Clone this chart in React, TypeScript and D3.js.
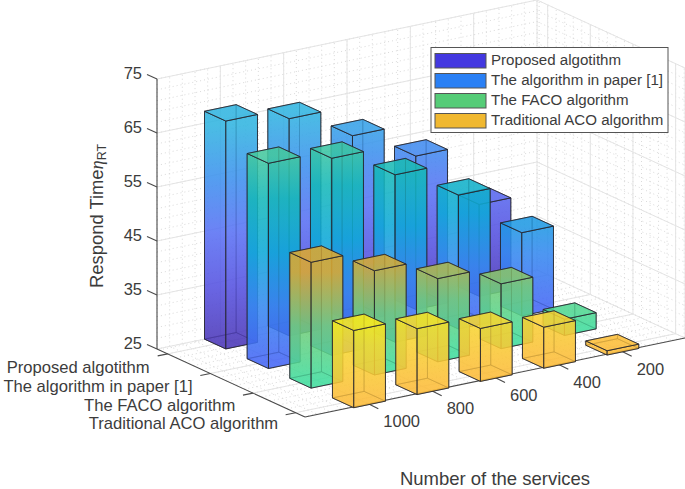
import React from "react";
import * as d3 from "d3";

const services = ["1000", "800", "600", "400", "200"];
const categories = ["Proposed algotithm", "The algorithm in paper [1]", "The FACO algorithm", "Traditional ACO algorithm"];
const zTicks = [25, 35, 45, 55, 65, 75];

const proposed = [67.2, 65.2, 59.6, 53.4, 42];
const paper = [63, 61.5, 56, 49.8, 40.4];
const faco = [48.3, 44.3, 40.4, 37, 28];
const traditional = [39.3, 37.2, 34.8, 32.6, 25.8];
const seriesValues = [proposed, paper, faco, traditional];

const legendColors = ["#4338e0", "#2a80f5", "#55cc77", "#f0b830"];

// colour along the height of the bars, one ramp per row
const rampZ = [25, 35, 45, 55, 65];
const ramps = [
  ["#4a36b8", "#5450e0", "#5870f4", "#3c90ee", "#30b4e0"],
  ["#4466f5", "#3488f0", "#0ca8d8", "#14b8b8", "#50cc98"],
  ["#40dc9c", "#74cc78", "#dcaa30", "#e0a82c", "#e0a82c"],
  ["#fcbc38", "#f6d830", "#ffff00", "#ffff00", "#ffff00"],
];

const W = 685;
const H = 489;
const originX = 157;
const originY = 349;

const svcX = d3.scaleLinear().domain([0, 6]).range([0, 380]);
const svcY = d3.scaleLinear().domain([0, 6]).range([0, -79]);
const catX = d3.scaleLinear().domain([0.75, 4.22]).range([0, 148]);
const catY = d3.scaleLinear().domain([0.75, 4.22]).range([0, 68]);
const zPx = d3.scaleLinear().domain([25, 75]).range([0, -270]);

const project = (s: number, c: number, z: number): [number, number] => [
  originX + svcX(s) + catX(c),
  originY + svcY(s) + catY(c) + zPx(z),
];

const poly = (pts: [number, number][]) => "M" + pts.map((p) => p.join(",")).join("L") + "Z";
const seg = (a: [number, number], b: [number, number]) => "M" + a.join(",") + "L" + b.join(",");

const S0 = 0, S1 = 6, C0 = 0.75, C1 = 4.22, Z0 = 25, Z1 = 75;
const majorColor = "#e4e4e4";
const minorColor = "#c9c9c9";
const axisColor = "#4a4a4a";
const textColor = "#3c3c3c";
const font = "'Liberation Sans', Arial, sans-serif";

const svcMajor = d3.range(1, 6);
const svcMinor = d3.range(0, 6.01, 0.2);
const catMajor = d3.range(1, 5);
const catMinor = d3.range(1 - 0.2, 4.21, 0.2);
const zMinor = d3.range(25, 75.01, 2);

function gridPaths() {
  const major: string[] = [];
  const minor: string[] = [];
  // back left wall
  svcMajor.forEach((s) => major.push(seg(project(s, C0, Z0), project(s, C0, Z1))));
  svcMinor.forEach((s) => minor.push(seg(project(s, C0, Z0), project(s, C0, Z1))));
  zTicks.forEach((z) => major.push(seg(project(S0, C0, z), project(S1, C0, z))));
  zMinor.forEach((z) => minor.push(seg(project(S0, C0, z), project(S1, C0, z))));
  // right wall
  catMajor.forEach((c) => major.push(seg(project(S1, c, Z0), project(S1, c, Z1))));
  catMinor.forEach((c) => minor.push(seg(project(S1, c, Z0), project(S1, c, Z1))));
  zTicks.forEach((z) => major.push(seg(project(S1, C0, z), project(S1, C1, z))));
  zMinor.forEach((z) => minor.push(seg(project(S1, C0, z), project(S1, C1, z))));
  // floor
  svcMajor.forEach((s) => major.push(seg(project(s, C0, Z0), project(s, C1, Z0))));
  svcMinor.forEach((s) => minor.push(seg(project(s, C0, Z0), project(s, C1, Z0))));
  catMajor.forEach((c) => major.push(seg(project(S0, c, Z0), project(S1, c, Z0))));
  catMinor.forEach((c) => minor.push(seg(project(S0, c, Z0), project(S1, c, Z0))));
  // box edges
  major.push(seg(project(S1, C0, Z0), project(S1, C0, Z1)));
  major.push(seg(project(S1, C1, Z0), project(S1, C1, Z1)));
  return { major: major.join(""), minor: minor.join("") };
}

const halfBar = 0.25;

function Bar({ row, col, value }: { row: number; col: number; value: number }) {
  const s = col + 1;
  const c = row + 1;
  const s0 = s - halfBar, s1 = s + halfBar, c0 = c - halfBar, c1 = c + halfBar;
  const color = d3.scaleLinear<string>().domain(rampZ).range(ramps[row]).clamp(true);
  const id = `bar-${row}-${col}`;
  const bottom = project(s, c, Z0);
  const top = project(s, c, value);
  const stops = [Z0, ...rampZ.filter((z) => z > Z0 && z < value), value];
  // hidden faces first, they only show through the front ones
  const faces = [
    [project(s0, c0, Z0), project(s1, c0, Z0), project(s1, c1, Z0), project(s0, c1, Z0)],
    [project(s0, c0, Z0), project(s1, c0, Z0), project(s1, c0, value), project(s0, c0, value)],
    [project(s1, c0, Z0), project(s1, c1, Z0), project(s1, c1, value), project(s1, c0, value)],
    [project(s0, c0, Z0), project(s0, c1, Z0), project(s0, c1, value), project(s0, c0, value)],
    [project(s0, c1, Z0), project(s1, c1, Z0), project(s1, c1, value), project(s0, c1, value)],
    [project(s0, c0, value), project(s1, c0, value), project(s1, c1, value), project(s0, c1, value)],
  ];
  return (
    <g>
      <linearGradient id={id} gradientUnits="userSpaceOnUse" x1={0} x2={0} y1={bottom[1]} y2={top[1]}>
        {stops.map((z) => (
          <stop key={z} offset={(z - Z0) / (value - Z0)} stopColor={color(z)} />
        ))}
      </linearGradient>
      {faces.map((f, i) => (
        <path
          key={i}
          d={poly(f)}
          fill={`url(#${id})`}
          fillOpacity={i < 3 ? 0.55 : 0.72}
          stroke="#26262e"
          strokeOpacity={i < 3 ? 0.55 : 0.95}
          strokeWidth={0.9}
          strokeLinejoin="round"
        />
      ))}
    </g>
  );
}

export default function App() {
  const grid = gridPaths();
  const rowsBackToFront = d3.range(seriesValues.length);
  const colsBackToFront = d3.range(services.length).reverse();

  return (
    <svg
      width={W}
      height={H}
      viewBox={`0 0 ${W} ${H}`}
      style={{ position: "absolute", left: 0, top: 0, background: "#fff", fontFamily: font }}
    >
      <path d={grid.minor} fill="none" stroke={minorColor} strokeWidth={0.7} strokeDasharray="1 3" />
      <path d={grid.major} fill="none" stroke={majorColor} strokeWidth={1} />

      {/* axis lines */}
      <path
        d={
          seg(project(S0, C0, Z0), project(S0, C0, Z1)) +
          seg(project(S0, C0, Z0), project(S0, C1, Z0)) +
          seg(project(S0, C1, Z0), project(S1, C1, Z0))
        }
        fill="none"
        stroke={axisColor}
        strokeWidth={1.1}
      />

      {/* z ticks */}
      {zTicks.map((z) => {
        const [x, y] = project(S0, C0, z);
        return (
          <g key={z}>
            <line x1={x} y1={y} x2={x - 10} y2={y - 4.4} stroke={axisColor} strokeWidth={1.1} />
            <text x={x - 15} y={y - 4.5} textAnchor="end" dominantBaseline="middle" fontSize={16.5} fill={textColor}>
              {z}
            </text>
          </g>
        );
      })}

      {/* category ticks */}
      {categories.map((name, i) => {
        const [x, y] = project(S0, i + 1, Z0);
        return (
          <g key={name}>
            <line x1={x} y1={y} x2={x - 10} y2={y + 2} stroke={axisColor} strokeWidth={1.1} />
            <text x={x - 18 + i * 0.2} y={y + 15 - i * 0.9} textAnchor="end" dominantBaseline="middle" fontSize={16.6} fill={textColor}>
              {name}
            </text>
          </g>
        );
      })}

      {/* service ticks */}
      {services.map((name, i) => {
        const [x, y] = project(i + 1, C1, Z0);
        return (
          <g key={name}>
            <line x1={x} y1={y} x2={x + 10} y2={y + 5} stroke={axisColor} strokeWidth={1.1} />
            <text x={x + 15} y={y + 19} dominantBaseline="middle" fontSize={16.5} fill={textColor}>
              {name}
            </text>
          </g>
        );
      })}

      {/* bars */}
      {rowsBackToFront.map((row) =>
        colsBackToFront.map((col) => <Bar key={`${row}-${col}`} row={row} col={col} value={seriesValues[row][col]} />)
      )}

      {/* axis titles */}
      <text transform="translate(103,288) rotate(-90)" fontSize={18.4} fill={textColor}>
        Respond Time<tspan fontStyle="italic" fontFamily="'Liberation Serif', serif">η</tspan>
        <tspan fontSize={12.5} dy={3}>RT</tspan>
      </text>
      <text x={495} y={485} textAnchor="middle" fontSize={18.5} fill={textColor}>
        Number of the services
      </text>

      {/* legend */}
      <g>
        <rect x={431} y={47.5} width={237} height={85} fill="#fff" stroke="#555" strokeWidth={1} />
        {categories.map((name, i) => (
          <g key={name} transform={`translate(435,${53.5 + i * 20})`}>
            <rect width={51} height={14.5} fill={legendColors[i]} stroke="#555" strokeWidth={1} />
            <text x={56} y={7.5} dominantBaseline="middle" fontSize={15.1} fill={textColor}>
              {name}
            </text>
          </g>
        ))}
      </g>
    </svg>
  );
}
